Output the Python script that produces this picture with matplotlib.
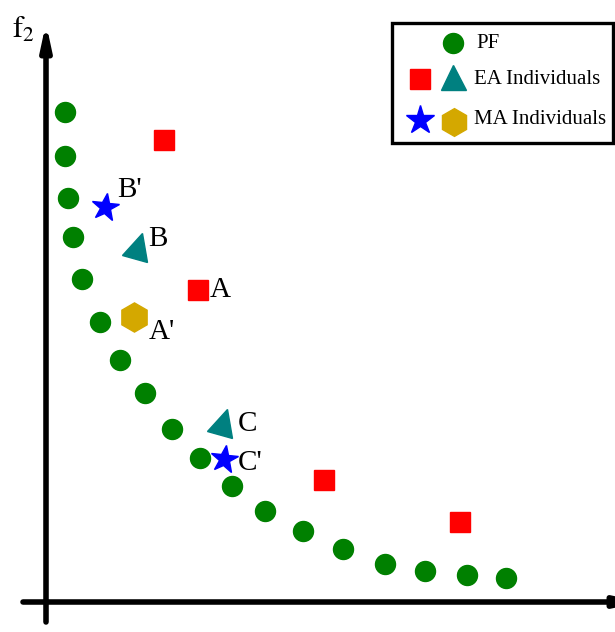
import matplotlib

matplotlib.use("Agg")
import matplotlib.pyplot as plt
from matplotlib.markers import MarkerStyle
from matplotlib.patches import Rectangle
from matplotlib.transforms import Affine2D

plt.rcParams["font.family"] = ["Liberation Serif", "DejaVu Serif"]
plt.rcParams["mathtext.fontset"] = "stix"

# Pareto front (f1, f2)
pf_f1 = [1.9, 1.9, 2.2, 2.7, 3.6, 5.4, 7.4, 9.9, 12.6, 15.4, 18.6, 21.9, 25.7, 29.7, 33.9, 37.9, 42.1, 46.0]
pf_f2 = [49.0, 44.6, 40.4, 36.5, 32.3, 28.0, 24.2, 20.9, 17.3, 14.4, 11.6, 9.1, 7.1, 5.3, 3.8, 3.1, 2.7, 2.4]

# EA individuals
ea_sq_f1 = [11.8, 15.2, 27.8, 41.4]
ea_sq_f2 = [46.2, 31.2, 12.2, 8.0]
ea_tri_f1 = [9.2, 17.7]
ea_tri_f2 = [35.6, 18.0]

# MA individuals
ma_star_f1 = [5.9, 17.8]
ma_star_f2 = [39.5, 14.3]
ma_hex_f1 = [8.8]
ma_hex_f2 = [28.5]

# point labels
label_text = ["B'", "B", "A", "A'", "C", "C'"]
label_f1 = [8.4, 11.2, 17.4, 11.6, 20.1, 20.4]
label_f2 = [41.2, 36.3, 31.2, 27.0, 17.8, 13.9]

GREEN = "#008000"
RED = "#ff0000"
TEAL = "#008080"
BLUE = "#0000ff"
GOLD = "#d4a800"

fig = plt.figure(figsize=(6.15, 6.32), dpi=100)
ax = fig.add_axes([0, 0, 1, 1])
ax.set_xlim(-4.6, 56.9)
ax.set_ylim(-3.0, 60.2)
ax.axis("off")

# axes with arrows
arrow = dict(arrowstyle="-|>,head_length=0.7,head_width=0.15", lw=4, color="black",
             mutation_scale=20, shrinkA=0, shrinkB=0)
ax.annotate("", xy=(0, 57.9), xytext=(0, -2.0), arrowprops=arrow)
ax.annotate("", xy=(59.6, 0), xytext=(-2.3, 0), arrowprops=arrow, annotation_clip=False)
ax.text(-2.3, 57.2, r"$\mathrm{f}_2$", fontsize=22, ha="center", va="center")

tri = MarkerStyle("^", transform=Affine2D().rotate_deg(-16))
star = MarkerStyle("*", transform=Affine2D().rotate_deg(-8))

ax.plot(pf_f1, pf_f2, "o", ms=14.4, color=GREEN, ls="none")
ax.plot(ea_sq_f1, ea_sq_f2, "s", ms=15, color=RED, ls="none")
ax.plot(ea_tri_f1, ea_tri_f2, marker=tri, ms=19, color=TEAL, ls="none")
ax.plot(ma_star_f1, ma_star_f2, marker=star, ms=21, color=BLUE, ls="none")
ax.plot(ma_hex_f1, ma_hex_f2, "h", ms=21, color=GOLD, ls="none")

for t, x, y in zip(label_text, label_f1, label_f2):
    ax.text(x, y, t, fontsize=21, ha="center", va="center")

# legend drawn by hand
def px(x, y):
    return x / 615, 1 - y / 632

tr = ax.transAxes
x0, y1 = px(392, 23)
x1, y0 = px(613, 143)
ax.add_patch(Rectangle((x0, y0), x1 - x0, y1 - y0, transform=tr, fill=False,
                       lw=2.4, ec="black", zorder=5))
ax.plot(*px(453, 43), "o", ms=14.4, color=GREEN, transform=tr)
ax.plot(*px(420, 79), "s", ms=15, color=RED, transform=tr)
ax.plot(*px(453, 77), "^", ms=18, color=TEAL, transform=tr)
ax.plot(*px(420, 120), "*", ms=21, color=BLUE, transform=tr)
ax.plot(*px(454, 122), "h", ms=20, color=GOLD, transform=tr)
ax.text(*px(476, 44), "PF", fontsize=15, va="center", transform=tr)
ax.text(*px(474, 80), "EA Individuals", fontsize=15, va="center", transform=tr)
ax.text(*px(474, 120), "MA Individuals", fontsize=15, va="center", transform=tr)

fig.savefig("out.png", dpi=100)
